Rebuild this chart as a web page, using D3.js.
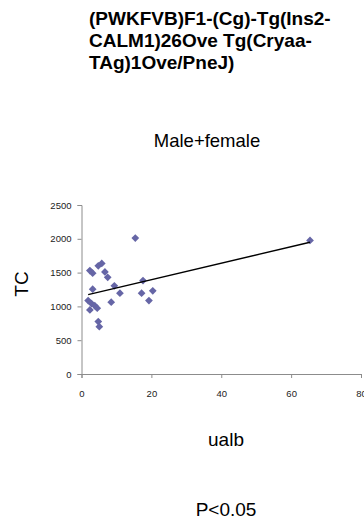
<!DOCTYPE html>
<html>
<head>
<meta charset="utf-8">
<script src="https://cdn.jsdelivr.net/npm/d3@7"></script>
<style>
  body { margin: 0; background: #fff; }
  svg { display: block; font-family: "Liberation Sans", Arial, sans-serif; }
</style>
</head>
<body>
<div id="chart"></div>
<script>
// values
const titleLines = ["(PWKFVB)F1-(Cg)-Tg(Ins2-", "CALM1)26Ove Tg(Cryaa-", "TAg)1Ove/PneJ)"];
const ualb = [15.4, 2.4, 3.2, 4.8, 5.8, 6.7, 7.5, 3.2, 9.4, 11.0, 8.5, 1.9, 2.9, 3.8, 4.5, 2.4, 4.8, 5.1, 17.6, 17.2, 20.4, 19.3, 65.4];
const tc =   [2010, 1530, 1492, 1600, 1635, 1510, 1430, 1255, 1305, 1195, 1062, 1086, 1040, 1010, 973, 948, 775, 700, 1382, 1195, 1230, 1086, 1975];
const xTicks = [0, 20, 40, 60, 80];
const yTicks = [0, 500, 1000, 1500, 2000, 2500];

const W = 364, H = 521;
const svg = d3.select("#chart").append("svg")
  .attr("width", W)
  .attr("height", H);

const x = d3.scaleLinear().domain([0, 80]).range([81.5, 361]);
const y = d3.scaleLinear().domain([0, 2500]).range([374, 205]);

// title
svg.append("text")
  .attr("x", 89)
  .attr("y", 25)
  .style("font-size", "19px")
  .style("font-weight", "bold")
  .attr("fill", "#000")
  .selectAll("tspan")
  .data(titleLines)
  .enter().append("tspan")
    .attr("x", 89)
    .attr("dy", (d, i) => i === 0 ? 0 : 22)
    .text(d => d);

svg.append("text")
  .attr("x", 207)
  .attr("y", 147)
  .attr("text-anchor", "middle")
  .style("font-size", "18.5px")
  .text("Male+female");

// axes
const yAxis = svg.append("g")
  .attr("transform", `translate(${x(0)},0)`)
  .call(d3.axisLeft(y).tickValues(yTicks).tickFormat(d3.format("d")).tickSize(4).tickPadding(6));
const xAxis = svg.append("g")
  .attr("transform", `translate(0,${y(0)})`)
  .call(d3.axisBottom(x).tickValues(xTicks).tickFormat(d3.format("d")).tickSize(4).tickPadding(12));

[xAxis, yAxis].forEach(g => {
  g.select(".domain").attr("stroke", "#8c8c8c");
  g.selectAll(".tick line").attr("stroke", "#8c8c8c");
  g.selectAll(".tick text")
    .attr("fill", "#222")
    .style("font-family", "'Liberation Sans', Arial, sans-serif")
    .style("font-size", "9.5px");
});

// points
svg.append("g")
  .selectAll("path.pt")
  .data(ualb.map((d, i) => [d, tc[i]]))
  .enter().append("path")
    .attr("class", "pt")
    .attr("d", d3.symbol(d3.symbolSquare, 30))
    .attr("transform", d => `translate(${x(d[0])},${y(d[1])}) rotate(45)`)
    .attr("fill", "#6666a6");

// linear trend line (least squares)
const mx = d3.mean(ualb), my = d3.mean(tc);
const slope = d3.sum(ualb, (d, i) => (d - mx) * (tc[i] - my)) / d3.sum(ualb, d => (d - mx) * (d - mx));
const icpt = my - slope * mx;
const xr = d3.extent(ualb);
svg.append("line")
  .attr("x1", x(xr[0])).attr("y1", y(icpt + slope * xr[0]))
  .attr("x2", x(xr[1])).attr("y2", y(icpt + slope * xr[1]))
  .attr("stroke", "#000")
  .attr("stroke-width", 1.3);

// axis titles
svg.append("text")
  .attr("transform", "translate(28,284) rotate(-90)")
  .attr("text-anchor", "middle")
  .style("font-size", "19px")
  .text("TC");

svg.append("text")
  .attr("x", 226)
  .attr("y", 446)
  .attr("text-anchor", "middle")
  .style("font-size", "19px")
  .text("ualb");

svg.append("text")
  .attr("x", 226)
  .attr("y", 516)
  .attr("text-anchor", "middle")
  .style("font-size", "19px")
  .text("P<0.05");
</script>
</body>
</html>
